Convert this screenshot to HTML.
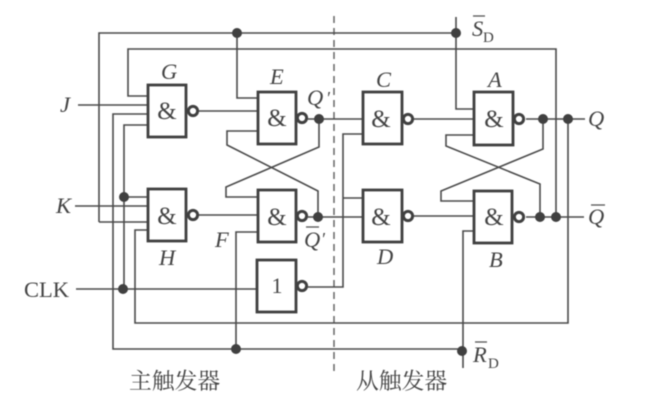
<!DOCTYPE html>
<html><head><meta charset="utf-8">
<style>
html,body{margin:0;padding:0;background:#fff;width:665px;height:408px;overflow:hidden}
svg{display:block;filter:blur(0.5px)}
text{font-family:"Liberation Serif","Noto Serif CJK SC",serif;fill:#444}
.i{font-style:italic;font-size:22.5px}
.w{fill:none;stroke:#4a4a4a;stroke-width:1.6}
.g{fill:#fff;stroke:#404040;stroke-width:2.8}
.b{fill:#fff;stroke:#404040;stroke-width:3}
.d{fill:#404040;stroke:none}
.amp{font-size:25px;text-anchor:middle}
</style></head><body>
<svg width="665" height="408" viewBox="0 0 665 408" xmlns="http://www.w3.org/2000/svg">
<rect width="665" height="408" fill="#fff"/>
<line x1="334" y1="16" x2="334" y2="373" stroke="#666" stroke-width="1.5" stroke-dasharray="7,5"/>
<path class="w" d="M456 17V109H474M99 222V33H456M237 33V98H258M148 96H128V49H556V217"/>
<path class="w" d="M78 105H148M148 114H113V349H463M148 125H124V289M124 197H148M75 206H148M99 222H148M148 230H135V323H568V119"/>
<path class="w" d="M199 111H258M258 131H227V145L318 191V217M319 119V147L226 187V197H258"/>
<path class="w" d="M199 215H258M258 232H236V349M76 289H257M308 287H343V134H363M343 198H363M308 119H363M308 217H363"/>
<path class="w" d="M414 119H474M414 216H474M474 135H446V146L540 184V217M543 119V149L441 191V201H474M474 231H463V368"/>
<path class="w" d="M526 119H585M526 217H584"/>
<rect class="g" x="148" y="85" width="38" height="52"/>
<rect class="g" x="258" y="92" width="38" height="52"/>
<rect class="g" x="148" y="189" width="38" height="52"/>
<rect class="g" x="258" y="190" width="38" height="52"/>
<rect class="g" x="257" y="260" width="39" height="52"/>
<rect class="g" x="363" y="92" width="39" height="52"/>
<rect class="g" x="363" y="190" width="39" height="52"/>
<rect class="g" x="474" y="92" width="39" height="53"/>
<rect class="g" x="474" y="191" width="38" height="52"/>
<circle class="b" cx="193" cy="111" r="4.6"/><circle class="b" cx="302" cy="118" r="4.6"/>
<circle class="b" cx="193" cy="215" r="4.6"/><circle class="b" cx="302" cy="216" r="4.6"/>
<circle class="b" cx="302" cy="286" r="4.6"/><circle class="b" cx="408" cy="119" r="4.6"/>
<circle class="b" cx="408" cy="216" r="4.6"/><circle class="b" cx="519" cy="119" r="4.6"/>
<circle class="b" cx="519" cy="217" r="4.6"/>
<g class="d">
<circle cx="237" cy="33" r="5"/><circle cx="456" cy="33" r="5"/>
<circle cx="319" cy="119" r="5"/><circle cx="318" cy="217" r="5"/>
<circle cx="543" cy="119" r="5"/><circle cx="568" cy="119" r="5"/>
<circle cx="540" cy="217" r="5"/><circle cx="556" cy="217" r="5"/>
<circle cx="124" cy="197" r="5"/><circle cx="123" cy="289" r="5"/>
<circle cx="236" cy="349" r="5"/><circle cx="462" cy="351" r="5"/>
</g>
<text class="amp" x="167" y="119">&amp;</text><text class="amp" x="277" y="126">&amp;</text>
<text class="amp" x="167" y="224">&amp;</text><text class="amp" x="277" y="225">&amp;</text>
<text class="amp" x="381" y="127">&amp;</text><text class="amp" x="381" y="225">&amp;</text>
<text class="amp" x="494" y="127">&amp;</text><text class="amp" x="494" y="225">&amp;</text>
<text x="277" y="293" font-size="22" text-anchor="middle">1</text>
<text class="i" x="161" y="79">G</text><text class="i" x="270" y="84">E</text>
<text class="i" x="376" y="87">C</text><text class="i" x="488" y="87">A</text>
<text class="i" x="159" y="265">H</text><text class="i" x="215" y="247">F</text>
<text class="i" x="377" y="264">D</text><text class="i" x="489" y="267">B</text>
<text class="i" x="60" y="112">J</text><text class="i" x="56" y="213">K</text>
<text x="24" y="297" font-size="22.5">CLK</text>
<text class="i" x="307" y="105">Q</text><text class="i" x="326" y="104" style="font-size:18px">′</text>
<text class="i" x="304" y="247">Q</text><text class="i" x="321" y="245" style="font-size:18px">′</text>
<line x1="306" y1="227" x2="319" y2="227" stroke="#555" stroke-width="1.3"/>
<text class="i" x="588" y="126">Q</text>
<text class="i" x="588" y="224">Q</text>
<line x1="591" y1="205" x2="605" y2="205" stroke="#555" stroke-width="1.3"/>
<text class="i" x="472" y="36">S</text><text x="483" y="42" font-size="15">D</text>
<line x1="473" y1="16" x2="485" y2="16" stroke="#555" stroke-width="1.3"/>
<text class="i" x="473" y="362">R</text><text x="488" y="368" font-size="15">D</text>
<line x1="475" y1="342" x2="487" y2="342" stroke="#555" stroke-width="1.3"/>
<text x="129" y="389" font-size="22.8">主触发器</text>
<text x="356" y="389" font-size="22.8">从触发器</text>
</svg>
</body></html>
